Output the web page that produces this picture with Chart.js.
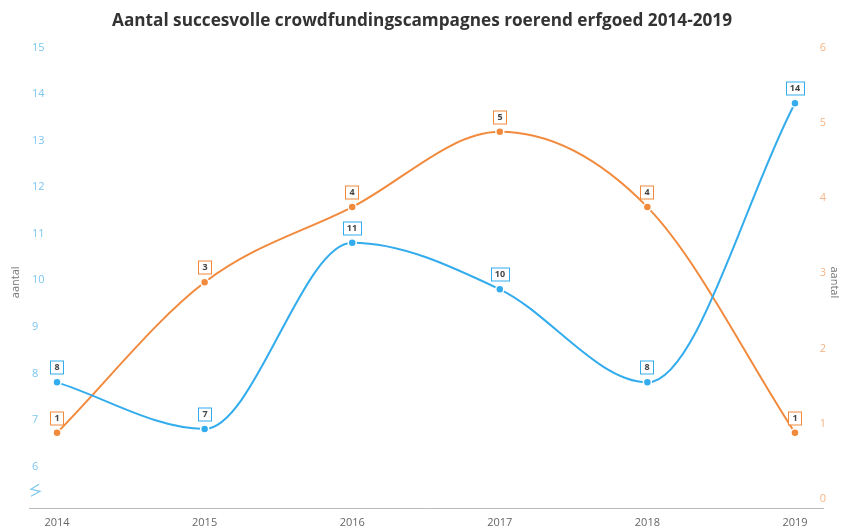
<!DOCTYPE html>
<html>
<head>
<meta charset="utf-8">
<script src="https://cdn.jsdelivr.net/npm/chart.js@4"></script>
<style>
html,body{margin:0;padding:0;background:#fff;}
#wrap{width:844px;height:530px;position:relative;}
</style>
</head>
<body>
<div id="wrap"><canvas id="c" width="844" height="530"></canvas></div>
<script>
const years = ['2014', '2015', '2016', '2017', '2018', '2019'];
const blueValues = [8, 7, 11, 10, 8, 14];
const orangeValues = [1, 3, 4, 5, 4, 1];
const leftTicks = [6, 7, 8, 9, 10, 11, 12, 13, 14, 15];
const rightTicks = [0, 1, 2, 3, 4, 5, 6];
const titleText = 'Aantal succesvolle crowdfundingscampagnes roerend erfgoed 2014-2019';
const axisTitle = 'aantal';

const BLUE = '#33aced';
const ORANGE = '#f28a3d';

const toPts = arr => arr.map((v, i) => ({x: i, y: v}));

const labelPlugin = {
  id: 'boxLabels',
  afterDatasetsDraw(chart) {
    const ctx = chart.ctx;
    ctx.save();
    ctx.font = 'bold 9px "Open Sans", sans-serif';
    ctx.textAlign = 'center';
    ctx.textBaseline = 'middle';
    chart.data.datasets.forEach((ds, di) => {
      const meta = chart.getDatasetMeta(di);
      meta.data.forEach((pt, i) => {
        const txt = String(ds.data[i].y);
        const w = ctx.measureText(txt).width + 8;
        const h = 13;
        const cx = Math.round(pt.x), cy = Math.round(pt.y - 15);
        ctx.fillStyle = '#fff';
        ctx.fillRect(cx - w / 2, cy - h / 2, w, h);
        ctx.strokeStyle = ds.borderColor;
        ctx.lineWidth = 1;
        ctx.strokeRect(Math.round(cx - w / 2) + 0.5, cy - h / 2 + 0.5, Math.round(w), h);
        ctx.fillStyle = '#444';
        ctx.fillText(txt, cx, cy + 0.5);
      });
    });
    ctx.restore();
  }
};

const breakPlugin = {
  id: 'axisBreak',
  afterDraw(chart) {
    const s = chart.scales.yL;
    const y = s.getPixelForValue(5.68);
    const x = chart.chartArea.left + 6;
    const ctx = chart.ctx;
    ctx.save();
    ctx.strokeStyle = '#7cc6ef';
    ctx.lineWidth = 1.2;
    ctx.beginPath();
    ctx.moveTo(x + 4, y - 6);
    ctx.lineTo(x - 4, y - 1);
    ctx.lineTo(x + 5, y + 1);
    ctx.lineTo(x - 4, y + 6);
    ctx.stroke();
    ctx.restore();
  }
};

new Chart(document.getElementById('c'), {
  type: 'line',
  data: {
    datasets: [
      {
        data: toPts(blueValues), yAxisID: 'yL',
        borderColor: BLUE, backgroundColor: BLUE, borderWidth: 2,
        pointRadius: 4, pointBorderColor: '#fff', pointBorderWidth: 1.5,
        pointBackgroundColor: BLUE, cubicInterpolationMode: 'monotone', fill: false
      },
      {
        data: toPts(orangeValues), yAxisID: 'yR',
        borderColor: ORANGE, backgroundColor: ORANGE, borderWidth: 2,
        pointRadius: 4, pointBorderColor: '#fff', pointBorderWidth: 1.5,
        pointBackgroundColor: ORANGE, cubicInterpolationMode: 'monotone', fill: false
      }
    ]
  },
  options: {
    responsive: false,
    animation: false,
    layout: {padding: {top: 0, bottom: 0, left: 0, right: 0}},
    plugins: {
      legend: {display: false},
      tooltip: {enabled: false},
      title: {
        display: true, text: titleText, color: '#333',
        font: {family: '"Open Sans", sans-serif', size: 17.2, weight: 'bold'},
        padding: {top: 11, bottom: 25}
      }
    },
    scales: {
      x: {
        type: 'linear', min: -0.19, max: 5.19,
        grid: {display: false},
        border: {display: true, color: '#bbb', width: 1},
        afterBuildTicks: s => { s.ticks = years.map((y, i) => ({value: i})); },
        afterFit: s => { s.height = 22; s.paddingLeft = 0; s.paddingRight = 0; },
        ticks: {
          color: '#666', padding: 0,
          font: {family: '"Open Sans", sans-serif', size: 11},
          callback: v => years[v]
        }
      },
      yL: {
        position: 'left', min: 5.3, max: 15,
        grid: {display: false},
        border: {display: false},
        afterBuildTicks: s => { s.ticks = leftTicks.map(v => ({value: v})); },
        afterFit: s => { s.width = 29; s.paddingTop = 0; s.paddingBottom = 0; },
        title: {display: true, text: axisTitle, color: '#777',
          font: {family: '"Open Sans", sans-serif', size: 11}, padding: {top: 9, bottom: 0}},
        ticks: {
          color: '#7cc6ef', mirror: true, padding: 3, labelOffset: -9,
          font: {family: '"Open Sans", sans-serif', size: 11}
        }
      },
      yR: {
        position: 'right', min: 0, max: 6,
        grid: {display: false},
        border: {display: false},
        afterBuildTicks: s => { s.ticks = rightTicks.map(v => ({value: v})); },
        afterFit: s => { s.width = 21; s.paddingTop = 0; s.paddingBottom = 0; },
        title: {display: true, text: axisTitle, color: '#777',
          font: {family: '"Open Sans", sans-serif', size: 11}, padding: {top: 3.5, bottom: 0}},
        ticks: {
          color: '#f5b586', mirror: true, padding: 3, labelOffset: -9,
          font: {family: '"Open Sans", sans-serif', size: 11}
        }
      }
    }
  },
  plugins: [labelPlugin, breakPlugin]
});
</script>
</body>
</html>
